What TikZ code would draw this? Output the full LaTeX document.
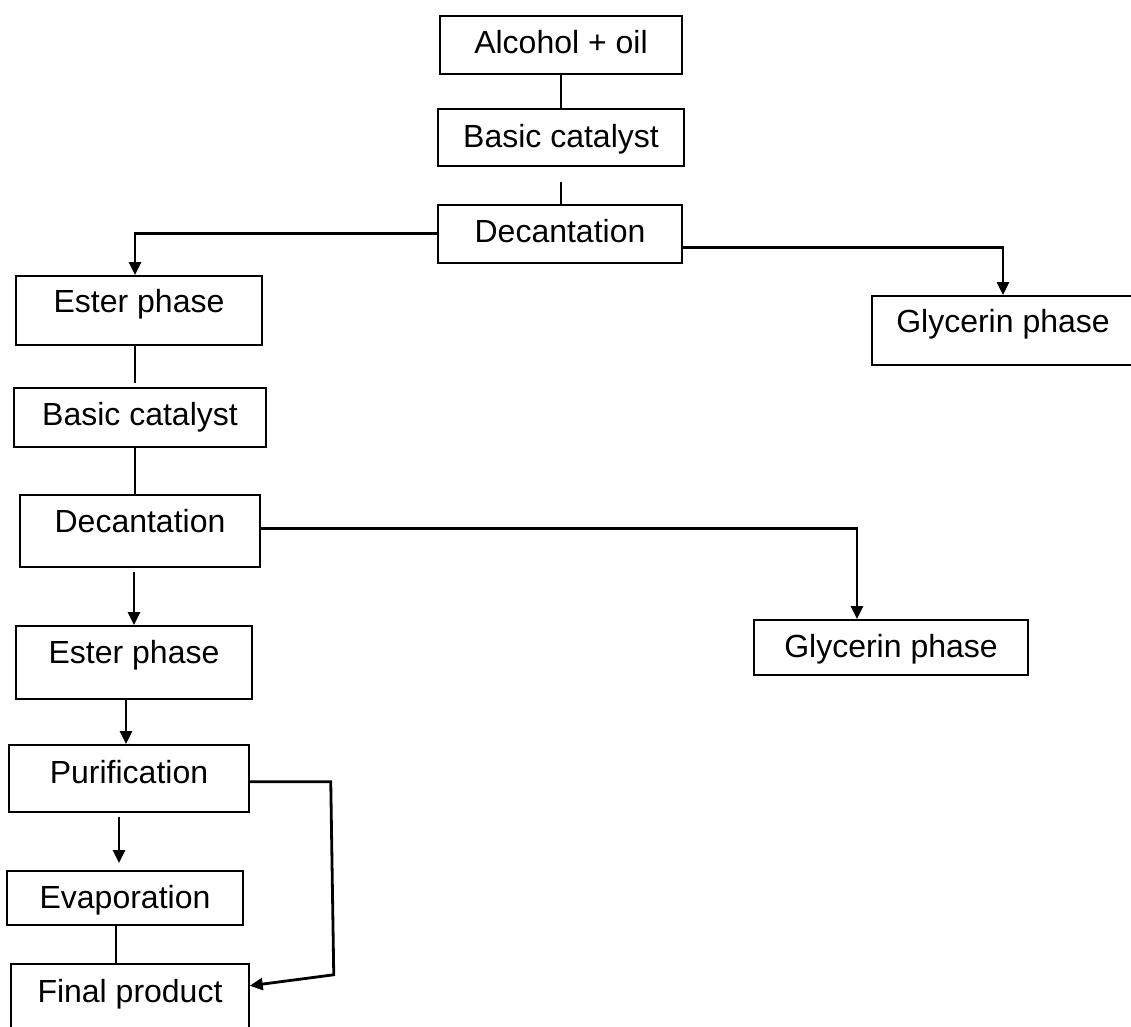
\documentclass[tikz,border=0pt]{standalone}
\usepackage{fontspec}
\setmainfont{Liberation Sans}
\usepackage{tikz}
\usetikzlibrary{arrows.meta}

\begin{document}
\begin{tikzpicture}[x=1pt,y=-1pt,
  box/.style n args={3}{draw,line width=1.5pt,inner sep=0pt,anchor=north,
    font=\fontsize{32}{38}\selectfont,minimum width=#1pt,text height=#2pt,text depth=#3pt},
  conn/.style={line width=2.8pt},
  arr/.style={conn,-{Triangle[width=12pt,length=13pt]}}]
\useasboundingbox (0,0) rectangle (1131,1026);
% process boxes: name / centre x / top / width / text height / text depth / label
\foreach \n/\cx/\top/\w/\th/\td/\lab in {%
  alc/561/15/242/38/20/{Alcohol + oil},%
  cat1/561/108/246/39/18/{Basic catalyst},%
  dec1/560/204/244/38/20/{Decantation},%
  est1/139/275/246/37/32/{Ester phase},%
  gly1/1003/295/262/37/32/{Glycerin phase},%
  cat2/140/387/252/38/21/{Basic catalyst},%
  dec2/140/494/240/38/34/{Decantation},%
  gly2/891/619/274/38/17/{Glycerin phase},%
  est2/134/625/236/38/35/{Ester phase},%
  pur/129/744/240/39/28/{Purification},%
  eva/125/870/236/38/16/{Evaporation},%
  fin/130/963/238/39/45/{Final product}}{
  \node[box={\w}{\th}{\td}] (\n) at (\cx,\top) {\lab};
}
% first reaction stage
\draw[conn] (alc) -- (cat1);
\draw[conn] ([yshift=-15pt]cat1.south) -- (cat1.south |- dec1.north);
\draw[arr] (dec1.west) -| ([xshift=-4pt]est1.north);
\draw[arr] ([yshift=-14pt]dec1.east) -| (gly1.north);
% second reaction stage
\draw[conn] ([xshift=-4pt]est1.south) -- ([xshift=-4pt,yshift=4pt]est1.south |- cat2.north);
\draw[conn] ([xshift=-4pt]est1.south |- cat2.south) -- ([xshift=-4pt]est1.south |- dec2.north);
\draw[arr] ([yshift=2pt]dec2.east) -| ([xshift=-34pt]gly2.north);
\draw[arr] ([shift={(-6pt,-4pt)}]dec2.south) -- ([xshift=-6pt]dec2.south |- est2.north);
% finishing
\draw[arr] ([xshift=-3pt]est2.south -| pur.north) -- ([xshift=-3pt]pur.north);
\draw[arr] ([shift={(-10pt,-4pt)}]pur.south) -- ([shift={(-10pt,7pt)}]pur.south |- eva.north);
\draw[conn] ([xshift=-9pt]eva.south) -- ([xshift=-9pt]eva.south |- fin.north);
\draw[arr] ([yshift=-3.5pt]pur.east) -- ++(81,0) -- ++(3,193) -- ([yshift=20pt]fin.east);
\end{tikzpicture}
\end{document}
